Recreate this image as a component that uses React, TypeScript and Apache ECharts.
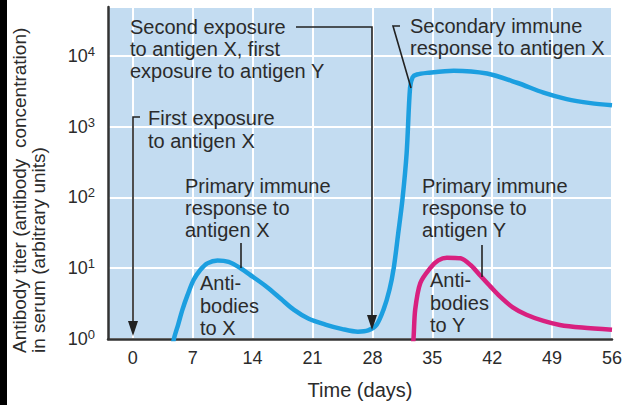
import React, { useEffect, useRef } from 'react';
import * as echarts from 'echarts';

// Tick labels
const dayTicks = [0, 7, 14, 21, 28, 35, 42, 49, 56];

// Antibodies to antigen X (blue)
const antigenXDays = [4.5, 4.8, 5.3, 5.8, 6.4, 7.1, 7.9, 8.7, 9.9, 11.2, 12.6, 14.0, 15.7, 17.3, 18.8, 20.5, 22.5, 24.5, 26.3, 27.5, 28.5, 29.3, 30.0, 30.5, 31.0, 31.5, 32.0, 32.4, 32.7, 33.2, 34.4, 37.5, 41.4, 44.9, 48.0, 50.7, 53.5, 56];
const antigenXTiter = [0.6, 1.0, 1.6, 2.6, 4.2, 6.8, 9.5, 11.7, 12.9, 12.3, 10.0, 7.6, 5.4, 3.7, 2.6, 1.95, 1.6, 1.38, 1.27, 1.32, 1.6, 2.6, 5, 10.2, 30, 91, 420, 3550, 5000, 5450, 5750, 6170, 5620, 4170, 3020, 2450, 2150, 2000];

// Antibodies to antigen Y (magenta)
const antigenYDays = [32.6, 32.8, 33.0, 33.6, 34.8, 35.7, 36.7, 38.3, 39.5, 40.6, 41.8, 42.9, 44.4, 46.0, 48.0, 49.9, 52.5, 56];
const antigenYTiter = [0.6, 1.0, 2.6, 6.2, 10.2, 12.9, 14.1, 13.8, 11, 7.9, 5.5, 4.0, 2.8, 2.2, 1.8, 1.58, 1.45, 1.35];

const FONT = '"Liberation Sans", Arial, Helvetica, sans-serif';
const TXT = '#2b2b2b';
const LINE = '#222';
const FS = 20;

function textLines(lines: string[], x: number, firstBaseline: number, lh: number) {
  return lines.map((t, i) => ({
    type: 'text',
    silent: true,
    z: 100,
    style: {
      text: t,
      x,
      y: firstBaseline + i * lh - FS * 0.3465,
      fill: TXT,
      font: `${FS}px ${FONT}`,
      textAlign: 'left',
      textVerticalAlign: 'middle',
    },
  }));
}

function arrowHead(x: number, tipY: number) {
  return {
    type: 'polygon',
    silent: true,
    z: 100,
    shape: { points: [[x, tipY], [x - 5, tipY - 15], [x + 5, tipY - 15]] },
    style: { fill: LINE },
  };
}

export default function App() {
  const ref = useRef<HTMLDivElement>(null);

  useEffect(() => {
    document.body.style.margin = '0';
    const chart = echarts.init(ref.current!, null, { renderer: 'svg' });
    const xData = antigenXDays.map((d, i) => [d, antigenXTiter[i]]);
    const yData = antigenYDays.map((d, i) => [d, antigenYTiter[i]]);

    const graphic: any[] = [
      { type: 'rect', silent: true, z: 100, shape: { x: 0, y: 0, width: 7, height: 405 }, style: { fill: '#000' } },
      // y axis title
      {
        type: 'text', silent: true, z: 100, x: 19.5, y: 353, rotation: Math.PI / 2,
        style: { text: 'Antibody titer (antibody  concentration)', x: 0, y: 0, fill: TXT, font: `19px ${FONT}`, textAlign: 'left', textVerticalAlign: 'middle' },
      },
      {
        type: 'text', silent: true, z: 100, x: 38.5, y: 353, rotation: Math.PI / 2,
        style: { text: 'in serum (arbitrary units)', x: 0, y: 0, fill: TXT, font: `19px ${FONT}`, textAlign: 'left', textVerticalAlign: 'middle' },
      },
      // Second exposure annotation
      ...textLines(['Second exposure', 'to antigen X, first', 'exposure to antigen Y'], 130, 34, 22),
      { type: 'polyline', silent: true, z: 100, shape: { points: [[296, 27], [372, 27], [372, 318]] }, style: { stroke: LINE, lineWidth: 1.6, fill: 'none' } },
      arrowHead(372, 330),
      // First exposure annotation
      ...textLines(['First exposure', 'to antigen X'], 148, 125, 23),
      { type: 'polyline', silent: true, z: 100, shape: { points: [[140, 117], [133, 117], [133, 324]] }, style: { stroke: LINE, lineWidth: 1.6, fill: 'none' } },
      arrowHead(133, 336),
      // Secondary immune response
      ...textLines(['Secondary immune', 'response to antigen X'], 410, 33, 22),
      { type: 'polyline', silent: true, z: 100, shape: { points: [[400, 26], [393, 26], [411, 88]] }, style: { stroke: LINE, lineWidth: 1.6, fill: 'none' } },
      // Primary immune response X
      ...textLines(['Primary immune', 'response to', 'antigen X'], 185, 193, 22),
      { type: 'line', silent: true, z: 100, shape: { x1: 241, y1: 243, x2: 241, y2: 268 }, style: { stroke: LINE, lineWidth: 1.6 } },
      ...textLines(['Anti-', 'bodies', 'to X'], 200, 290, 22.5),
      // Primary immune response Y
      ...textLines(['Primary immune', 'response to', 'antigen Y'], 422, 193, 22),
      { type: 'line', silent: true, z: 100, shape: { x1: 482, y1: 245, x2: 482, y2: 277 }, style: { stroke: LINE, lineWidth: 1.6 } },
      ...textLines(['Anti-', 'bodies', 'to Y'], 430, 287, 22.5),
    ];

    chart.setOption({
      animation: false,
      backgroundColor: '#ffffff',
      textStyle: { fontFamily: FONT },
      grid: {
        left: 108, right: 14, top: 7, bottom: 66,
        show: true, backgroundColor: '#c3dcf1', borderWidth: 0,
      },
      xAxis: {
        type: 'value',
        min: -2.9,
        max: 56,
        name: 'Time (days)',
        nameLocation: 'middle',
        nameGap: 41,
        nameTextStyle: { fontSize: FS, color: TXT, fontFamily: FONT },
        axisLine: { show: true, onZero: false, lineStyle: { color: '#333', width: 2.5 } },
        axisTick: { show: false, customValues: dayTicks },
        axisLabel: { customValues: dayTicks, fontSize: 18, color: TXT, margin: 10, fontFamily: FONT },
        splitLine: { show: true, lineStyle: { color: '#ffffff', width: 2 } },
      },
      yAxis: {
        type: 'log',
        logBase: 10,
        min: 1,
        max: 49000,
        axisLine: { show: true, onZero: false, lineStyle: { color: '#333', width: 2.5 } },
        axisTick: { show: false },
        axisLabel: {
          margin: 13,
          formatter: (v: number) => {
            const l = Math.log10(v);
            const n = Math.round(l);
            if (Math.abs(l - n) > 0.01) return '';
            return `{b|10}{s|${n}}`;
          },
          rich: {
            b: { fontSize: 18, color: TXT, fontFamily: FONT, lineHeight: 22 },
            s: { fontSize: 13, color: TXT, fontFamily: FONT, lineHeight: 13, verticalAlign: 'top' },
          },
        },
        splitLine: { show: true, lineStyle: { color: '#ffffff', width: 2 } },
      },
      series: [
        {
          type: 'line', data: xData, smooth: 0.3, showSymbol: false, clip: true,
          lineStyle: { color: '#1c9fe0', width: 4.5 }, itemStyle: { color: '#1c9fe0' },
        },
        {
          type: 'line', data: yData, smooth: 0.3, showSymbol: false, clip: true,
          lineStyle: { color: '#d8207f', width: 4.5 }, itemStyle: { color: '#d8207f' },
        },
      ],
      graphic,
    });
    return () => chart.dispose();
  }, []);

  return <div ref={ref} style={{ position: 'fixed', left: 0, top: 0, width: 626, height: 405 }} />;
}
